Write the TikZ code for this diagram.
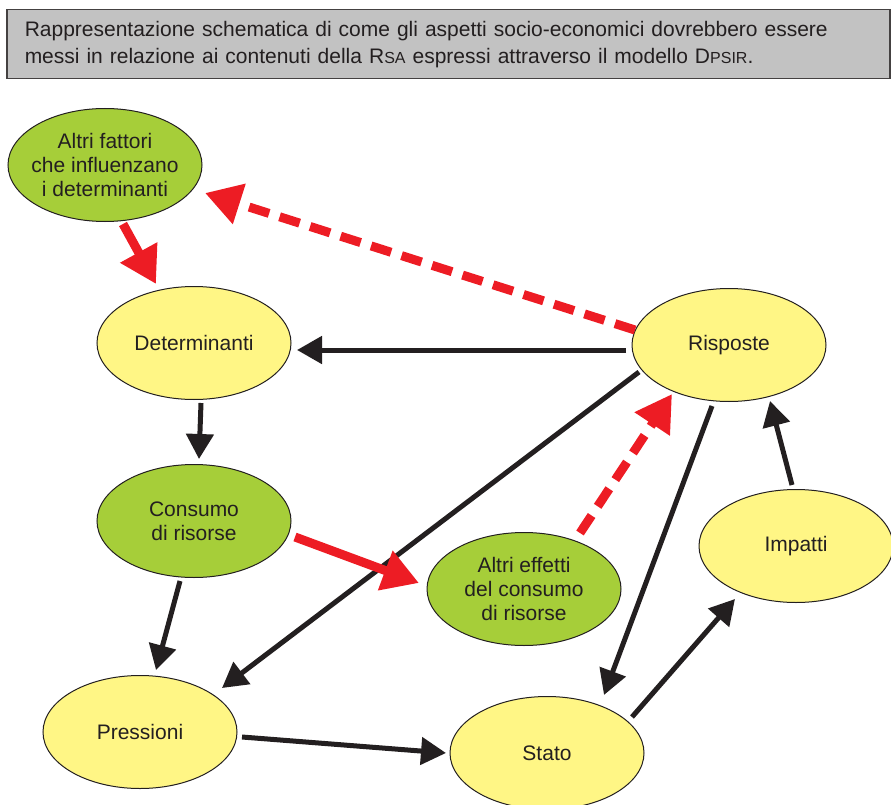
\documentclass[tikz,border=0pt]{standalone}
\usepackage{fontspec}
\setmainfont{Liberation Sans}
\usetikzlibrary{shapes.geometric,arrows.meta,calc}
\definecolor{ink}{HTML}{231F20}
\definecolor{leaf}{HTML}{A6CE39}
\definecolor{pale}{HTML}{FFF685}
\definecolor{redar}{HTML}{ED1C24}
\definecolor{boxgray}{HTML}{C2C2C2}
\begin{document}
\begin{tikzpicture}[x=1pt,y=-1pt,
  ell/.style={ellipse, draw=ink, line width=1pt, minimum width=194pt, minimum height=113pt, inner sep=0pt},
  yel/.style={ell, fill=pale},
  grn/.style={ell, fill=leaf},
  lbl/.style={align=center, text=ink, font=\fontsize{21}{24}\selectfont, inner sep=0pt},
  blk/.style={draw=ink, line width=5pt, -{Triangle[length=25pt,width=27pt]}},
  redsolid/.style={draw=redar, line width=9pt, -{Triangle[length=36pt,width=40pt]}},
  reddash/.style={redsolid, dash pattern=on 21pt off 11pt}
]
\useasboundingbox (0,0) rectangle (891,805);
\node[draw=ink!85, line width=1.5pt, fill=boxgray, anchor=north west,
  minimum width=883pt, minimum height=69pt, text width=847pt, inner xsep=18pt,
  align=left, text=ink, font=\fontsize{21}{27}\selectfont] (title) at (6,9)
  {Rappresentazione schematica di come gli aspetti socio-economici dovrebbero essere\\
   messi in relazione ai contenuti della R{\fontsize{16}{27}\selectfont SA} espressi attraverso il modello D{\fontsize{16}{27}\selectfont PSIR}.};

\node[grn, label={[lbl]center:Altri fattori\\che influenzano\\i determinanti}] (af) at (105,165) {};
\node[yel, label={[lbl]center:Determinanti}] (det) at (194,343) {};
\node[yel, label={[lbl]center:Risposte}] (risp) at (729,345) {};
\node[grn, label={[lbl]center:Consumo\\di risorse}] (cons) at (194,521) {};
\node[grn, label={[lbl]center:Altri effetti\\del consumo\\di risorse}] (ae) at (524,589) {};
\node[yel, label={[lbl]center:Impatti}] (imp) at (796,546) {};
\node[yel, label={[lbl]center:Pressioni}] (press) at (140,732) {};
\node[yel, label={[lbl]center:Stato}] (stato) at (547,753) {};

% black arrows
\draw[blk] ($(risp)+(-103,5)$) -- ($(det)+(103,7)$);
\draw[blk] ($(det)+(7,60)$) -- ($(cons)+(5,-62)$);
\draw[blk] ($(cons)+(-14,60)$) -- ($(press)+(16,-62)$);
\draw[blk] ($(risp)+(-90,27)$) -- ($(press)+(82,-44)$);
\draw[blk] ($(press)+(102,5)$) -- ($(stato)+(-101,0)$);
\draw[blk] ($(risp)+(-17,61)$) -- ($(stato)+(57,-58)$);
\draw[blk] ($(stato)+(85,-36)$) -- ($(imp)+(-61,53)$);
\draw[blk] ($(imp)+(-4,-61)$) -- ($(risp)+(41,56)$);

% red arrows
\draw[redsolid] ($(af)+(18,59)$) -- ($(det)+(-38,-59)$);
\draw[reddash] ($(risp)+(-94,-15)$) -- ($(af)+(100,28)$);
\draw[redsolid] ($(cons)+(101,16)$) -- ($(ae)+(-105,-6)$);
\draw[reddash] ($(ae)+(56,-56)$) -- ($(risp)+(-57,49)$);
\end{tikzpicture}
\end{document}
